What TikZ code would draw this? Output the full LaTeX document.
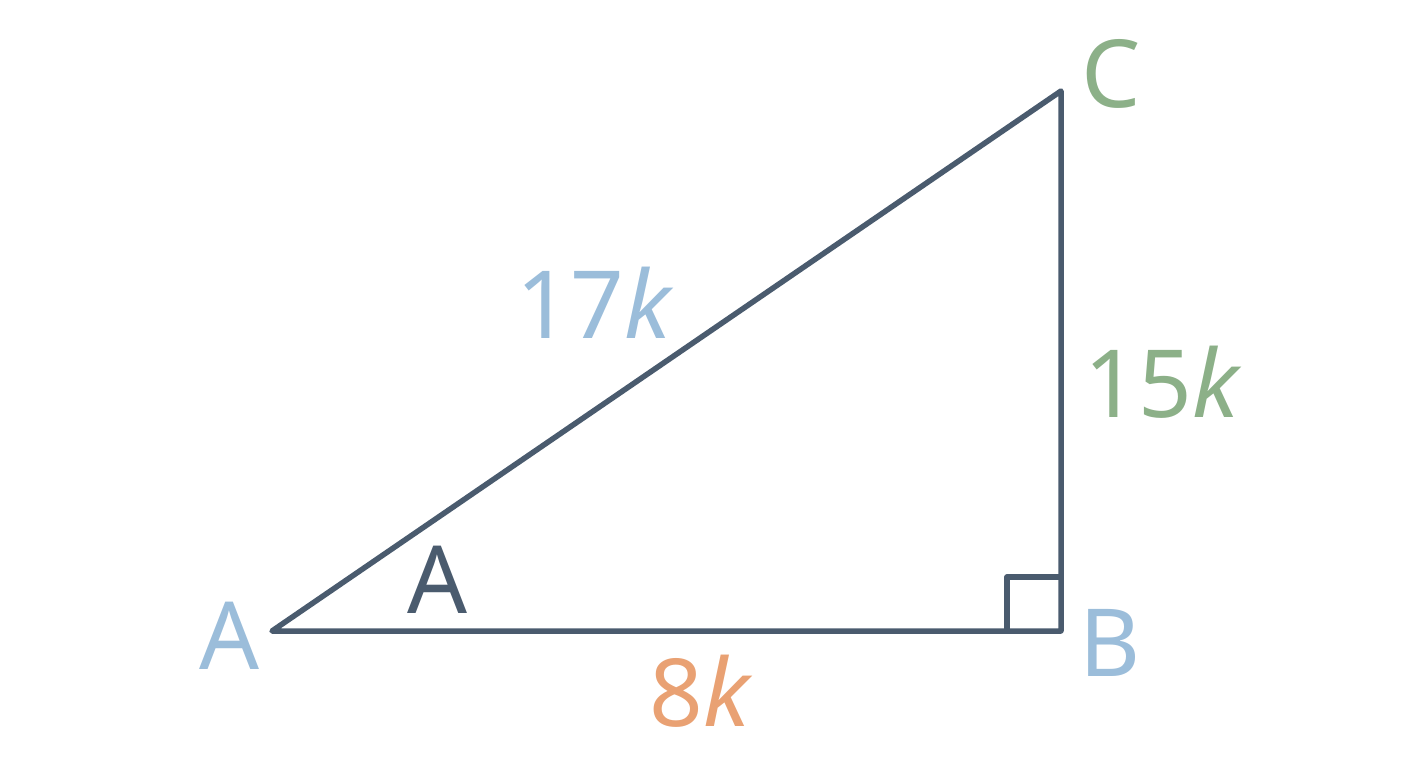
\documentclass[tikz,border=0pt]{standalone}
\usepackage{fontspec}
\setmainfont{Noto Sans}
\usetikzlibrary{positioning}
\definecolor{slate}{HTML}{4A5B6E}
\definecolor{skyblue}{HTML}{9BBDDA}
\definecolor{sage}{HTML}{8CB088}
\definecolor{peach}{HTML}{E9A173}

\begin{document}
\begin{tikzpicture}[
		x=1pt, y=-1pt
		,every node/.append style={inner sep=0pt, font=\fontsize{94}{100}\selectfont}
		,side/.style={draw=slate, line width=5.5pt, line join=round, line cap=round}
		,vlab/.style={anchor=base, text=skyblue}
		,len/.style={anchor=base}
	]
		\useasboundingbox (0,0) rectangle (1408,768);
		\coordinate (A) at (272,631);
		\coordinate (B) at (1061,631);
		\coordinate (C) at (1061,91);
		\draw [side] (A) -- (B) -- (C) -- cycle;
		\draw [side] ([xshift=-54pt]B) |- ([yshift=54pt]B);
		% vertex labels
		\node [vlab] (lA) at (230,669) {A};
		\node [vlab] (lB) at (1110,676) {B};
		\node [vlab, text=sage] (lC) at (1111,107) {C};
		% angle label
		\node [len, text=slate] (ang) at (438,613) {A};
		% side lengths
		\node [len, text=skyblue] (hyp) at (595,338) {17\textit{k}};
		\node [len, text=sage] (opp) at (1163,417) {15\textit{k}};
		\node [len, text=peach] (adj) at (701,726) {8\textit{k}};
	\end{tikzpicture}
\end{document}
